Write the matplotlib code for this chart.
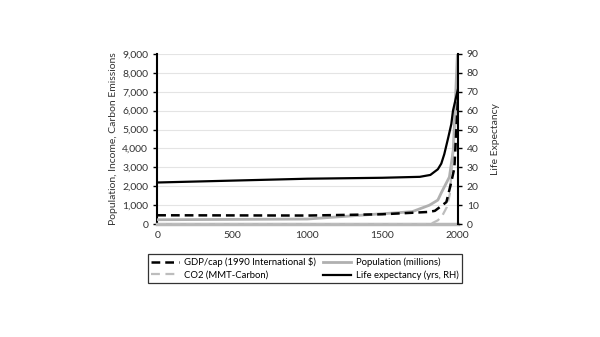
import matplotlib
matplotlib.use("Agg")
import matplotlib.pyplot as plt

plt.rcParams["font.family"] = ["Lato", "DejaVu Sans"]

years_gdp = [0, 1000, 1500, 1600, 1700, 1800, 1850, 1900, 1927, 1958, 1980, 2003]
gdp_cap = [467, 453, 520, 560, 600, 640, 700, 1000, 1165, 2170, 2960, 6500]

years_pop = [0, 1000, 1500, 1600, 1700, 1814, 1870, 1892, 1947, 1973, 2003]
population = [231, 268, 550, 600, 660, 1000, 1270, 1640, 2490, 3913, 9500]

years_co2 = [0, 1800, 1830, 1870, 1900, 1930, 1950, 1973, 2003]
co2 = [0, 0, 40, 200, 450, 900, 1600, 4000, 7000]

years_le = [0, 1000, 1500, 1750, 1820, 1870, 1893, 1913, 1940, 1960, 1971, 2003]
life_exp = [22, 24, 24.5, 25, 26, 29, 32, 37, 46, 53, 60, 71]

yticks_left = [0, 1000, 2000, 3000, 4000, 5000, 6000, 7000, 8000, 9000]
yticks_right = [0, 10, 20, 30, 40, 50, 60, 70, 80, 90]
xticks = [0, 500, 1000, 1500, 2000]

fig = plt.figure(figsize=(6, 3.37), dpi=100)
ax = fig.add_axes([0.262, 0.335, 0.501, 0.505])
ax2 = ax.twinx()

ax.set_xlim(0, 2003)
ax.set_ylim(0, 9000)
ax2.set_ylim(0, 90)
ax.set_yticks(yticks_left)
ax.set_yticklabels([f"{v:,}" for v in yticks_left])
ax2.set_yticks(yticks_right)
ax.set_xticks(xticks)
ax.grid(axis="y", color="#e4e4e4", linewidth=0.8)
ax.set_axisbelow(True)

ax.plot(years_pop, population, color="#b0b0b0", lw=2.0, label="Population (millions)", zorder=3)
ax.plot(years_co2, co2, color="#bdbdbd", lw=1.6, ls=(0, (4, 2.5)), label="CO2 (MMT-Carbon)", zorder=3)
ax.plot(years_gdp, gdp_cap, color="black", lw=1.8, ls=(0, (3.5, 2)), label="GDP/cap (1990 International $)", zorder=4)
ax2.plot(years_le, life_exp, color="black", lw=1.6, label="Life expectancy (yrs, RH)", zorder=5)

ax.spines["top"].set_visible(False)
ax2.spines["top"].set_visible(False)
ax.spines["left"].set_linewidth(1.5)
ax2.spines["right"].set_linewidth(1.5)
ax2.spines["left"].set_visible(False)
ax.spines["right"].set_visible(False)
ax2.spines["bottom"].set_visible(False)
ax.spines["bottom"].set_color("#b8b8b8")
ax.spines["bottom"].set_linewidth(2.5)

ax.tick_params(axis="both", labelsize=7.5, length=3, width=1, colors="black")
ax.tick_params(axis="x", length=0, pad=5)
ax2.tick_params(axis="y", labelsize=7.5, length=3, width=1)
for t in ax.get_yticklabels() + ax.get_xticklabels() + ax2.get_yticklabels():
    t.set_color("#333333")

ax.set_ylabel("Population, Income, Carbon Emissions", fontsize=7.5, color="#333333", labelpad=3)
ax2.set_ylabel("Life Expectancy", fontsize=7.5, color="#333333", labelpad=9)

h1, l1 = ax.get_legend_handles_labels()
h2, l2 = ax2.get_legend_handles_labels()
hd = dict(zip(l1 + l2, h1 + h2))
order = ["GDP/cap (1990 International $)", "CO2 (MMT-Carbon)",
         "Population (millions)", "Life expectancy (yrs, RH)"]
leg = fig.legend([hd[k] for k in order], order, ncol=2, fontsize=6.8,
                 loc="center", bbox_to_anchor=(0.508, 0.2025),
                 frameon=True, fancybox=False, edgecolor="black",
                 handlelength=3, handletextpad=0.5, borderpad=0.35,
                 labelspacing=0.35, columnspacing=0.7)
leg.get_frame().set_linewidth(0.9)

fig.savefig("out.png", dpi=100)
